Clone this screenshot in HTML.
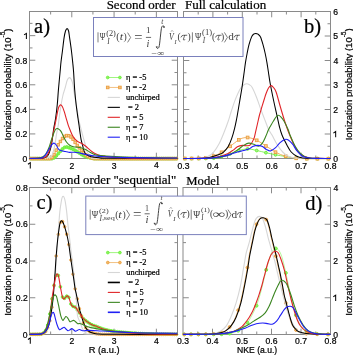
<!DOCTYPE html>
<html><head><meta charset="utf-8"><style>
html,body{margin:0;padding:0;background:#fff;width:353px;height:355px;overflow:hidden}
svg{display:block;will-change:transform}
text.k{stroke:#000;stroke-width:0.22px}
</style></head><body>
<svg width="353" height="355" viewBox="0 0 353 355">
<rect width="353" height="355" fill="#fff"/>
<path d="M71.79,158.50v-5.80M71.79,11.50v5.80M114.07,158.50v-5.80M114.07,11.50v5.80M156.36,158.50v-5.80M156.36,11.50v5.80M50.64,158.50v-3.00M50.64,11.50v3.00M92.93,158.50v-3.00M92.93,11.50v3.00M135.21,158.50v-3.00M135.21,11.50v3.00M29.50,133.93h5.80M177.50,133.93h-5.80M29.50,109.36h5.80M177.50,109.36h-5.80M29.50,84.79h5.80M177.50,84.79h-5.80M29.50,60.22h5.80M177.50,60.22h-5.80M29.50,35.65h5.80M177.50,35.65h-5.80M29.50,146.22h3.00M177.50,146.22h-3.00M29.50,121.64h3.00M177.50,121.64h-3.00M29.50,97.07h3.00M177.50,97.07h-3.00M29.50,72.51h3.00M177.50,72.51h-3.00M29.50,47.93h3.00M177.50,47.93h-3.00M29.50,23.36h3.00M177.50,23.36h-3.00" stroke="#8a8a8a" stroke-width="1" fill="none"/>
<rect x="29.50" y="11.50" width="148.00" height="147.00" stroke="#8a8a8a" stroke-width="1" fill="none"/>
<path d="M212.90,158.50v-5.80M212.90,11.50v5.80M242.30,158.50v-5.80M242.30,11.50v5.80M271.70,158.50v-5.80M271.70,11.50v5.80M301.10,158.50v-5.80M301.10,11.50v5.80M198.20,158.50v-3.00M198.20,11.50v3.00M227.60,158.50v-3.00M227.60,11.50v3.00M257.00,158.50v-3.00M257.00,11.50v3.00M286.40,158.50v-3.00M286.40,11.50v3.00M315.80,158.50v-3.00M315.80,11.50v3.00M183.50,134.00h5.80M330.50,134.00h-5.80M183.50,109.50h5.80M330.50,109.50h-5.80M183.50,85.00h5.80M330.50,85.00h-5.80M183.50,60.50h5.80M330.50,60.50h-5.80M183.50,36.00h5.80M330.50,36.00h-5.80M183.50,146.25h3.00M330.50,146.25h-3.00M183.50,121.75h3.00M330.50,121.75h-3.00M183.50,97.25h3.00M330.50,97.25h-3.00M183.50,72.75h3.00M330.50,72.75h-3.00M183.50,48.25h3.00M330.50,48.25h-3.00M183.50,23.75h3.00M330.50,23.75h-3.00" stroke="#8a8a8a" stroke-width="1" fill="none"/>
<rect x="183.50" y="11.50" width="147.00" height="147.00" stroke="#8a8a8a" stroke-width="1" fill="none"/>
<path d="M71.79,334.50v-5.80M71.79,187.50v5.80M114.07,334.50v-5.80M114.07,187.50v5.80M156.36,334.50v-5.80M156.36,187.50v5.80M50.64,334.50v-3.00M50.64,187.50v3.00M92.93,334.50v-3.00M92.93,187.50v3.00M135.21,334.50v-3.00M135.21,187.50v3.00M29.50,297.75h5.80M177.50,297.75h-5.80M29.50,261.00h5.80M177.50,261.00h-5.80M29.50,224.25h5.80M177.50,224.25h-5.80M29.50,316.12h3.00M177.50,316.12h-3.00M29.50,279.38h3.00M177.50,279.38h-3.00M29.50,242.62h3.00M177.50,242.62h-3.00M29.50,205.88h3.00M177.50,205.88h-3.00" stroke="#8a8a8a" stroke-width="1" fill="none"/>
<rect x="29.50" y="187.50" width="148.00" height="147.00" stroke="#8a8a8a" stroke-width="1" fill="none"/>
<path d="M212.50,334.50v-5.80M212.50,187.50v5.80M242.00,334.50v-5.80M242.00,187.50v5.80M271.50,334.50v-5.80M271.50,187.50v5.80M301.00,334.50v-5.80M301.00,187.50v5.80M197.75,334.50v-3.00M197.75,187.50v3.00M227.25,334.50v-3.00M227.25,187.50v3.00M256.75,334.50v-3.00M256.75,187.50v3.00M286.25,334.50v-3.00M286.25,187.50v3.00M315.75,334.50v-3.00M315.75,187.50v3.00M183.00,297.75h5.80M330.50,297.75h-5.80M183.00,261.00h5.80M330.50,261.00h-5.80M183.00,224.25h5.80M330.50,224.25h-5.80M183.00,316.12h3.00M330.50,316.12h-3.00M183.00,279.38h3.00M330.50,279.38h-3.00M183.00,242.62h3.00M330.50,242.62h-3.00M183.00,205.88h3.00M330.50,205.88h-3.00" stroke="#8a8a8a" stroke-width="1" fill="none"/>
<rect x="183.00" y="187.50" width="147.50" height="147.00" stroke="#8a8a8a" stroke-width="1" fill="none"/>
<g>
<path d="M29.50,158.60C32.92,158.60 46.15,158.62 50.00,158.60C53.85,158.58 51.78,158.73 52.60,158.50C53.42,158.27 54.03,157.92 54.90,157.20C55.77,156.48 56.82,155.27 57.80,154.20C58.78,153.13 59.80,151.87 60.80,150.80C61.80,149.73 62.85,148.43 63.80,147.80C64.75,147.17 65.55,146.98 66.50,147.00C67.45,147.02 68.23,147.43 69.50,147.90C70.77,148.37 72.58,149.02 74.10,149.80C75.62,150.58 77.10,151.67 78.60,152.60C80.10,153.53 81.58,154.62 83.10,155.40C84.62,156.18 86.00,156.80 87.70,157.30C89.40,157.80 91.25,158.18 93.30,158.40C95.35,158.62 85.97,158.57 100.00,158.60C114.03,158.63 164.58,158.60 177.50,158.60" stroke="#6cf03a" stroke-width="0.80" fill="none" stroke-linejoin="round" />
<g fill="#80f050" stroke="#6cf03a" stroke-width="0.90"><circle cx="30.87" cy="158.60" r="1.45"/><circle cx="32.98" cy="158.60" r="1.45"/><circle cx="35.09" cy="158.60" r="1.45"/><circle cx="37.20" cy="158.60" r="1.45"/><circle cx="39.31" cy="158.61" r="1.45"/><circle cx="41.42" cy="158.61" r="1.45"/><circle cx="43.52" cy="158.61" r="1.45"/><circle cx="45.63" cy="158.61" r="1.45"/><circle cx="47.74" cy="158.61" r="1.45"/><circle cx="49.85" cy="158.60" r="1.45"/><circle cx="51.96" cy="158.61" r="1.45"/><circle cx="54.07" cy="157.82" r="1.45"/><circle cx="56.18" cy="155.97" r="1.45"/><circle cx="58.29" cy="153.66" r="1.45"/><circle cx="60.40" cy="151.24" r="1.45"/><circle cx="62.51" cy="148.94" r="1.45"/><circle cx="64.61" cy="147.35" r="1.45"/><circle cx="66.72" cy="147.01" r="1.45"/><circle cx="68.83" cy="147.64" r="1.45"/><circle cx="70.94" cy="148.43" r="1.45"/><circle cx="73.05" cy="149.30" r="1.45"/><circle cx="75.16" cy="150.39" r="1.45"/><circle cx="77.27" cy="151.74" r="1.45"/><circle cx="79.38" cy="153.10" r="1.45"/><circle cx="81.49" cy="154.47" r="1.45"/><circle cx="83.60" cy="155.65" r="1.45"/><circle cx="85.70" cy="156.61" r="1.45"/><circle cx="87.81" cy="157.33" r="1.45"/><circle cx="89.92" cy="157.86" r="1.45"/><circle cx="92.03" cy="158.24" r="1.45"/><circle cx="94.14" cy="158.59" r="1.45"/><circle cx="96.25" cy="158.59" r="1.45"/><circle cx="98.36" cy="158.60" r="1.45"/><circle cx="100.47" cy="158.60" r="1.45"/><circle cx="102.58" cy="158.60" r="1.45"/><circle cx="104.69" cy="158.61" r="1.45"/><circle cx="106.79" cy="158.61" r="1.45"/><circle cx="108.90" cy="158.61" r="1.45"/><circle cx="111.01" cy="158.61" r="1.45"/><circle cx="113.12" cy="158.61" r="1.45"/><circle cx="115.23" cy="158.61" r="1.45"/><circle cx="117.34" cy="158.61" r="1.45"/><circle cx="119.45" cy="158.61" r="1.45"/><circle cx="121.56" cy="158.61" r="1.45"/><circle cx="123.67" cy="158.61" r="1.45"/><circle cx="125.78" cy="158.61" r="1.45"/><circle cx="127.88" cy="158.61" r="1.45"/><circle cx="129.99" cy="158.61" r="1.45"/><circle cx="132.10" cy="158.61" r="1.45"/><circle cx="134.21" cy="158.61" r="1.45"/><circle cx="136.32" cy="158.61" r="1.45"/><circle cx="138.43" cy="158.61" r="1.45"/><circle cx="140.54" cy="158.61" r="1.45"/><circle cx="142.65" cy="158.61" r="1.45"/><circle cx="144.76" cy="158.61" r="1.45"/><circle cx="146.87" cy="158.61" r="1.45"/><circle cx="148.97" cy="158.61" r="1.45"/><circle cx="151.08" cy="158.61" r="1.45"/><circle cx="153.19" cy="158.61" r="1.45"/><circle cx="155.30" cy="158.61" r="1.45"/><circle cx="157.41" cy="158.61" r="1.45"/><circle cx="159.52" cy="158.61" r="1.45"/><circle cx="161.63" cy="158.60" r="1.45"/><circle cx="163.74" cy="158.60" r="1.45"/><circle cx="165.85" cy="158.60" r="1.45"/><circle cx="167.96" cy="158.60" r="1.45"/><circle cx="170.06" cy="158.60" r="1.45"/><circle cx="172.17" cy="158.60" r="1.45"/><circle cx="174.28" cy="158.60" r="1.45"/><circle cx="176.39" cy="158.60" r="1.45"/></g>
<path d="M29.50,158.60C32.58,158.60 44.43,158.65 48.00,158.60C51.57,158.55 49.98,158.82 50.90,158.30C51.82,157.78 52.67,156.75 53.50,155.50C54.33,154.25 55.10,152.58 55.90,150.80C56.70,149.02 57.48,146.45 58.30,144.80C59.12,143.15 59.88,142.20 60.80,140.90C61.72,139.60 62.85,137.88 63.80,137.00C64.75,136.12 65.55,135.77 66.50,135.60C67.45,135.43 68.43,135.43 69.50,136.00C70.57,136.57 71.77,137.63 72.90,139.00C74.03,140.37 75.17,142.67 76.30,144.20C77.43,145.73 78.57,146.87 79.70,148.20C80.83,149.53 81.77,150.87 83.10,152.20C84.43,153.53 86.00,155.20 87.70,156.20C89.40,157.20 91.25,157.80 93.30,158.20C95.35,158.60 85.97,158.53 100.00,158.60C114.03,158.67 164.58,158.60 177.50,158.60" stroke="#eb9f40" stroke-width="0.80" fill="none" stroke-linejoin="round" />
<g fill="#f5cf9a" stroke="#eb9f40" stroke-width="0.90"><rect x="29.62" y="157.35" width="2.50" height="2.50"/><rect x="31.73" y="157.36" width="2.50" height="2.50"/><rect x="33.84" y="157.36" width="2.50" height="2.50"/><rect x="35.95" y="157.37" width="2.50" height="2.50"/><rect x="38.06" y="157.37" width="2.50" height="2.50"/><rect x="40.17" y="157.37" width="2.50" height="2.50"/><rect x="42.27" y="157.37" width="2.50" height="2.50"/><rect x="44.38" y="157.37" width="2.50" height="2.50"/><rect x="46.49" y="157.35" width="2.50" height="2.50"/><rect x="48.60" y="157.36" width="2.50" height="2.50"/><rect x="50.71" y="156.21" width="2.50" height="2.50"/><rect x="52.82" y="153.32" width="2.50" height="2.50"/><rect x="54.93" y="148.90" width="2.50" height="2.50"/><rect x="57.04" y="143.57" width="2.50" height="2.50"/><rect x="59.15" y="140.22" width="2.50" height="2.50"/><rect x="61.26" y="137.25" width="2.50" height="2.50"/><rect x="63.36" y="135.09" width="2.50" height="2.50"/><rect x="65.47" y="134.31" width="2.50" height="2.50"/><rect x="67.58" y="134.46" width="2.50" height="2.50"/><rect x="69.69" y="135.75" width="2.50" height="2.50"/><rect x="71.80" y="137.94" width="2.50" height="2.50"/><rect x="73.91" y="141.21" width="2.50" height="2.50"/><rect x="76.02" y="144.18" width="2.50" height="2.50"/><rect x="78.13" y="146.58" width="2.50" height="2.50"/><rect x="80.24" y="149.15" width="2.50" height="2.50"/><rect x="82.35" y="151.45" width="2.50" height="2.50"/><rect x="84.45" y="153.47" width="2.50" height="2.50"/><rect x="86.56" y="155.02" width="2.50" height="2.50"/><rect x="88.67" y="156.01" width="2.50" height="2.50"/><rect x="90.78" y="156.67" width="2.50" height="2.50"/><rect x="92.89" y="157.32" width="2.50" height="2.50"/><rect x="95.00" y="157.33" width="2.50" height="2.50"/><rect x="97.11" y="157.34" width="2.50" height="2.50"/><rect x="99.22" y="157.35" width="2.50" height="2.50"/><rect x="101.33" y="157.36" width="2.50" height="2.50"/><rect x="103.44" y="157.36" width="2.50" height="2.50"/><rect x="105.54" y="157.37" width="2.50" height="2.50"/><rect x="107.65" y="157.37" width="2.50" height="2.50"/><rect x="109.76" y="157.37" width="2.50" height="2.50"/><rect x="111.87" y="157.38" width="2.50" height="2.50"/><rect x="113.98" y="157.38" width="2.50" height="2.50"/><rect x="116.09" y="157.38" width="2.50" height="2.50"/><rect x="118.20" y="157.38" width="2.50" height="2.50"/><rect x="120.31" y="157.38" width="2.50" height="2.50"/><rect x="122.42" y="157.38" width="2.50" height="2.50"/><rect x="124.53" y="157.38" width="2.50" height="2.50"/><rect x="126.63" y="157.38" width="2.50" height="2.50"/><rect x="128.74" y="157.38" width="2.50" height="2.50"/><rect x="130.85" y="157.38" width="2.50" height="2.50"/><rect x="132.96" y="157.38" width="2.50" height="2.50"/><rect x="135.07" y="157.38" width="2.50" height="2.50"/><rect x="137.18" y="157.38" width="2.50" height="2.50"/><rect x="139.29" y="157.37" width="2.50" height="2.50"/><rect x="141.40" y="157.37" width="2.50" height="2.50"/><rect x="143.51" y="157.37" width="2.50" height="2.50"/><rect x="145.62" y="157.37" width="2.50" height="2.50"/><rect x="147.72" y="157.37" width="2.50" height="2.50"/><rect x="149.83" y="157.37" width="2.50" height="2.50"/><rect x="151.94" y="157.37" width="2.50" height="2.50"/><rect x="154.05" y="157.36" width="2.50" height="2.50"/><rect x="156.16" y="157.36" width="2.50" height="2.50"/><rect x="158.27" y="157.36" width="2.50" height="2.50"/><rect x="160.38" y="157.36" width="2.50" height="2.50"/><rect x="162.49" y="157.36" width="2.50" height="2.50"/><rect x="164.60" y="157.36" width="2.50" height="2.50"/><rect x="166.71" y="157.35" width="2.50" height="2.50"/><rect x="168.81" y="157.35" width="2.50" height="2.50"/><rect x="170.92" y="157.35" width="2.50" height="2.50"/><rect x="173.03" y="157.35" width="2.50" height="2.50"/><rect x="175.14" y="157.35" width="2.50" height="2.50"/></g>
<path d="M29.50,158.50C31.58,158.48 39.25,158.48 42.00,158.40C44.75,158.32 44.52,158.28 46.00,158.00C47.48,157.72 49.75,157.57 50.90,156.70C52.05,155.83 52.23,154.78 52.90,152.80C53.57,150.82 54.32,147.78 54.90,144.80C55.48,141.82 55.83,138.20 56.40,134.90C56.97,131.60 57.85,127.77 58.30,125.00C58.75,122.23 58.62,121.77 59.10,118.30C59.58,114.83 60.55,108.08 61.20,104.20C61.85,100.32 62.45,97.37 63.00,95.00C63.55,92.63 64.10,91.33 64.50,90.00C64.90,88.67 64.93,88.67 65.40,87.00C65.87,85.33 66.60,81.57 67.30,80.00C68.00,78.43 68.93,77.68 69.60,77.60C70.27,77.52 70.77,78.43 71.30,79.50C71.83,80.57 72.35,81.92 72.80,84.00C73.25,86.08 73.55,89.33 74.00,92.00C74.45,94.67 74.97,97.00 75.50,100.00C76.03,103.00 76.65,106.67 77.20,110.00C77.75,113.33 78.25,117.17 78.80,120.00C79.35,122.83 79.92,124.67 80.50,127.00C81.08,129.33 81.72,131.83 82.30,134.00C82.88,136.17 83.47,138.08 84.00,140.00C84.53,141.92 84.92,143.45 85.50,145.50C86.08,147.55 86.42,150.35 87.50,152.30C88.58,154.25 89.92,156.20 92.00,157.20C94.08,158.20 85.75,158.08 100.00,158.30C114.25,158.52 164.58,158.47 177.50,158.50" stroke="#d6d6d6" stroke-width="1.10" fill="none" stroke-linejoin="round" />
<path d="M29.50,158.50C31.25,158.48 37.58,158.47 40.00,158.40C42.42,158.33 43.00,158.30 44.00,158.10C45.00,157.90 45.27,157.77 46.00,157.20C46.73,156.63 47.75,155.77 48.40,154.70C49.05,153.63 49.40,152.45 49.90,150.80C50.40,149.15 50.95,147.10 51.40,144.80C51.85,142.50 52.20,139.80 52.60,137.00C53.00,134.20 53.30,131.12 53.80,128.00C54.30,124.88 55.02,122.27 55.60,118.30C56.18,114.33 56.83,108.92 57.30,104.20C57.77,99.48 58.03,94.37 58.40,90.00C58.77,85.63 59.18,81.40 59.50,78.00C59.82,74.60 60.05,72.27 60.30,69.60C60.55,66.93 60.63,65.18 61.00,62.00C61.37,58.82 61.98,54.55 62.50,50.50C63.02,46.45 63.60,40.95 64.10,37.70C64.60,34.45 65.00,32.52 65.50,31.00C66.00,29.48 66.58,28.60 67.10,28.60C67.62,28.60 68.18,29.48 68.60,31.00C69.02,32.52 69.13,34.45 69.60,37.70C70.07,40.95 70.87,46.25 71.40,50.50C71.93,54.75 72.43,59.62 72.80,63.20C73.17,66.78 73.28,67.53 73.60,72.00C73.92,76.47 74.28,84.63 74.70,90.00C75.12,95.37 75.55,99.48 76.10,104.20C76.65,108.92 77.52,114.83 78.00,118.30C78.48,121.77 78.67,122.63 79.00,125.00C79.33,127.37 79.65,130.07 80.00,132.50C80.35,134.93 80.67,137.45 81.10,139.60C81.53,141.75 82.07,143.40 82.60,145.40C83.13,147.40 83.65,150.05 84.30,151.60C84.95,153.15 85.37,153.85 86.50,154.70C87.63,155.55 89.02,156.20 91.10,156.70C93.18,157.20 95.85,157.43 99.00,157.70C102.15,157.97 96.92,158.17 110.00,158.30C123.08,158.43 166.25,158.47 177.50,158.50" stroke="#000000" stroke-width="1.05" fill="none" stroke-linejoin="round" />
<path d="M29.50,158.50C31.25,158.48 37.75,158.50 40.00,158.40C42.25,158.30 42.00,158.18 43.00,157.90C44.00,157.62 45.02,157.72 46.00,156.70C46.98,155.68 48.08,153.78 48.90,151.80C49.72,149.82 50.18,147.85 50.90,144.80C51.62,141.75 52.53,136.73 53.20,133.50C53.87,130.27 54.38,127.93 54.90,125.40C55.42,122.87 55.83,120.67 56.30,118.30C56.77,115.93 57.28,113.08 57.70,111.20C58.12,109.32 58.33,108.05 58.80,107.00C59.27,105.95 59.92,104.98 60.50,104.90C61.08,104.82 61.70,105.45 62.30,106.50C62.90,107.55 63.45,109.23 64.10,111.20C64.75,113.17 65.50,115.93 66.20,118.30C66.90,120.67 67.58,123.28 68.30,125.40C69.02,127.52 69.80,129.32 70.50,131.00C71.20,132.68 71.75,134.13 72.50,135.50C73.25,136.87 74.08,138.15 75.00,139.20C75.92,140.25 77.02,141.15 78.00,141.80C78.98,142.45 79.67,142.40 80.90,143.10C82.13,143.80 83.90,144.87 85.40,146.00C86.90,147.13 88.38,148.68 89.90,149.90C91.42,151.12 92.98,152.42 94.50,153.30C96.02,154.18 97.30,154.70 99.00,155.20C100.70,155.70 102.53,155.98 104.70,156.30C106.87,156.62 108.62,156.85 112.00,157.10C115.38,157.35 120.33,157.62 125.00,157.80C129.67,157.98 131.25,158.10 140.00,158.20C148.75,158.30 171.25,158.37 177.50,158.40" stroke="#e02428" stroke-width="1.10" fill="none" stroke-linejoin="round" />
<path d="M29.50,158.50C30.58,158.47 34.25,158.43 36.00,158.30C37.75,158.17 38.83,157.97 40.00,157.70C41.17,157.43 42.00,157.37 43.00,156.70C44.00,156.03 45.02,155.18 46.00,153.70C46.98,152.22 48.00,150.10 48.90,147.80C49.80,145.50 50.57,142.38 51.40,139.90C52.23,137.42 53.22,134.63 53.90,132.90C54.58,131.17 54.93,130.23 55.50,129.50C56.07,128.77 56.67,128.48 57.30,128.50C57.93,128.52 58.63,129.03 59.30,129.60C59.97,130.17 60.55,130.63 61.30,131.90C62.05,133.17 62.97,135.55 63.80,137.20C64.63,138.85 65.32,140.45 66.30,141.80C67.28,143.15 68.47,144.47 69.70,145.30C70.93,146.13 72.60,146.50 73.70,146.80C74.80,147.10 75.10,146.95 76.30,147.10C77.50,147.25 79.38,147.32 80.90,147.70C82.42,148.08 83.90,148.65 85.40,149.40C86.90,150.15 88.38,151.35 89.90,152.20C91.42,153.05 92.98,153.97 94.50,154.50C96.02,155.03 97.30,155.17 99.00,155.40C100.70,155.63 102.03,155.70 104.70,155.90C107.37,156.10 110.78,156.37 115.00,156.60C119.22,156.83 124.17,157.10 130.00,157.30C135.83,157.50 142.08,157.65 150.00,157.80C157.92,157.95 172.92,158.13 177.50,158.20" stroke="#3a8520" stroke-width="1.10" fill="none" stroke-linejoin="round" />
<path d="M29.50,158.40C30.92,158.38 36.13,158.35 38.00,158.30C39.87,158.25 39.87,158.28 40.70,158.10C41.53,157.92 42.28,157.60 43.00,157.20C43.72,156.80 44.25,156.58 45.00,155.70C45.75,154.82 46.65,153.32 47.50,151.90C48.35,150.48 49.25,148.55 50.10,147.20C50.95,145.85 51.90,144.47 52.60,143.80C53.30,143.13 53.67,142.97 54.30,143.20C54.93,143.43 55.73,144.27 56.40,145.20C57.07,146.13 57.57,147.90 58.30,148.80C59.03,149.70 59.88,150.18 60.80,150.60C61.72,151.02 62.80,151.10 63.80,151.30C64.80,151.50 65.85,151.62 66.80,151.80C67.75,151.98 68.28,152.33 69.50,152.40C70.72,152.47 72.58,152.13 74.10,152.20C75.62,152.27 77.10,152.52 78.60,152.80C80.10,153.08 81.58,153.58 83.10,153.90C84.62,154.22 86.00,154.38 87.70,154.70C89.40,155.02 91.42,155.52 93.30,155.80C95.18,156.08 97.10,156.25 99.00,156.40C100.90,156.55 102.03,156.57 104.70,156.70C107.37,156.83 110.78,157.05 115.00,157.20C119.22,157.35 124.17,157.48 130.00,157.60C135.83,157.72 142.08,157.83 150.00,157.90C157.92,157.97 172.92,157.98 177.50,158.00" stroke="#2020f4" stroke-width="1.10" fill="none" stroke-linejoin="round" />
</g>
<g>
<path d="M183.50,158.60C187.08,158.58 199.92,158.58 205.00,158.50C210.08,158.42 211.17,158.45 214.00,158.10C216.83,157.75 219.17,157.15 222.00,156.40C224.83,155.65 228.20,154.57 231.00,153.60C233.80,152.63 236.80,151.28 238.80,150.60C240.80,149.92 241.53,149.78 243.00,149.50C244.47,149.22 246.10,148.92 247.60,148.90C249.10,148.88 250.48,149.13 252.00,149.40C253.52,149.67 255.12,150.13 256.70,150.50C258.28,150.87 259.97,151.23 261.50,151.60C263.03,151.97 264.32,152.33 265.90,152.70C267.48,153.07 269.40,153.45 271.00,153.80C272.60,154.15 273.92,154.48 275.50,154.80C277.08,155.12 278.80,155.42 280.50,155.70C282.20,155.98 283.95,156.22 285.70,156.50C287.45,156.78 289.25,157.13 291.00,157.40C292.75,157.67 293.57,157.90 296.20,158.10C298.83,158.30 301.08,158.52 306.80,158.60C312.52,158.68 326.55,158.60 330.50,158.60" stroke="#6cf03a" stroke-width="0.80" fill="none" stroke-linejoin="round" />
<g fill="#a6f58a" stroke="#6cf03a" stroke-width="1.00"><circle cx="184.80" cy="158.60" r="1.40"/><circle cx="191.60" cy="158.58" r="1.40"/><circle cx="198.70" cy="158.56" r="1.40"/><circle cx="205.80" cy="158.49" r="1.40"/><circle cx="213.70" cy="158.14" r="1.40"/><circle cx="221.60" cy="156.51" r="1.40"/><circle cx="230.10" cy="153.91" r="1.40"/><circle cx="238.80" cy="150.60" r="1.40"/><circle cx="247.60" cy="148.90" r="1.40"/><circle cx="256.70" cy="150.50" r="1.40"/><circle cx="265.90" cy="152.70" r="1.40"/><circle cx="275.50" cy="154.80" r="1.40"/><circle cx="285.70" cy="156.50" r="1.40"/><circle cx="296.20" cy="158.10" r="1.40"/><circle cx="306.80" cy="158.60" r="1.40"/><circle cx="317.40" cy="158.63" r="1.40"/><circle cx="328.40" cy="158.60" r="1.40"/></g>
<path d="M183.50,158.50C186.25,158.48 196.30,158.52 200.00,158.40C203.70,158.28 203.45,158.17 205.70,157.80C207.95,157.43 210.85,157.12 213.50,156.20C216.15,155.28 218.83,153.95 221.60,152.30C224.37,150.65 227.27,148.35 230.10,146.30C232.93,144.25 236.45,141.38 238.60,140.00C240.75,138.62 241.50,138.42 243.00,138.00C244.50,137.58 246.10,137.43 247.60,137.50C249.10,137.57 250.48,137.93 252.00,138.40C253.52,138.87 255.12,139.53 256.70,140.30C258.28,141.07 259.97,142.05 261.50,143.00C263.03,143.95 264.32,144.97 265.90,146.00C267.48,147.03 269.40,148.17 271.00,149.20C272.60,150.23 273.92,151.32 275.50,152.20C277.08,153.08 278.80,153.83 280.50,154.50C282.20,155.17 283.78,155.68 285.70,156.20C287.62,156.72 290.25,157.25 292.00,157.60C293.75,157.95 293.73,158.12 296.20,158.30C298.67,158.48 301.08,158.63 306.80,158.70C312.52,158.77 326.55,158.70 330.50,158.70" stroke="#eb9f40" stroke-width="0.80" fill="none" stroke-linejoin="round" />
<g fill="#f5cf9a" stroke="#eb9f40" stroke-width="0.90"><rect x="183.45" y="157.15" width="2.70" height="2.70"/><rect x="190.25" y="157.14" width="2.70" height="2.70"/><rect x="197.35" y="157.08" width="2.70" height="2.70"/><rect x="204.45" y="156.43" width="2.70" height="2.70"/><rect x="212.35" y="154.78" width="2.70" height="2.70"/><rect x="220.25" y="150.95" width="2.70" height="2.70"/><rect x="228.75" y="144.95" width="2.70" height="2.70"/><rect x="237.45" y="138.52" width="2.70" height="2.70"/><rect x="246.25" y="136.15" width="2.70" height="2.70"/><rect x="255.35" y="138.95" width="2.70" height="2.70"/><rect x="264.55" y="144.65" width="2.70" height="2.70"/><rect x="274.15" y="150.85" width="2.70" height="2.70"/><rect x="284.35" y="154.85" width="2.70" height="2.70"/><rect x="294.85" y="156.95" width="2.70" height="2.70"/><rect x="305.45" y="157.35" width="2.70" height="2.70"/><rect x="316.05" y="157.38" width="2.70" height="2.70"/><rect x="327.05" y="157.35" width="2.70" height="2.70"/></g>
<path d="M183.50,158.50C185.92,158.48 193.95,158.73 198.00,158.40C202.05,158.07 205.22,157.52 207.80,156.50C210.38,155.48 211.62,154.42 213.50,152.30C215.38,150.18 217.35,147.10 219.10,143.80C220.85,140.50 222.48,136.25 224.00,132.50C225.52,128.75 227.00,124.80 228.20,121.30C229.40,117.80 230.03,115.07 231.20,111.50C232.37,107.93 233.78,103.53 235.20,99.90C236.62,96.27 238.40,92.10 239.70,89.70C241.00,87.30 241.87,86.48 243.00,85.50C244.13,84.52 245.42,83.92 246.50,83.80C247.58,83.68 248.55,84.18 249.50,84.80C250.45,85.42 251.00,85.35 252.20,87.50C253.40,89.65 255.28,94.12 256.70,97.70C258.12,101.28 259.28,105.15 260.70,109.00C262.12,112.85 263.90,117.43 265.20,120.80C266.50,124.17 267.37,126.83 268.50,129.20C269.63,131.57 270.58,132.50 272.00,135.00C273.42,137.50 275.22,141.37 277.00,144.20C278.78,147.03 280.82,150.00 282.70,152.00C284.58,154.00 286.25,155.20 288.30,156.20C290.35,157.20 292.22,157.63 295.00,158.00C297.78,158.37 299.08,158.32 305.00,158.40C310.92,158.48 326.25,158.48 330.50,158.50" stroke="#d6d6d6" stroke-width="1.10" fill="none" stroke-linejoin="round" />
<path d="M183.50,158.50C185.92,158.48 194.42,158.47 198.00,158.40C201.58,158.33 202.90,158.30 205.00,158.10C207.10,157.90 208.48,157.70 210.60,157.20C212.72,156.70 215.58,155.92 217.70,155.10C219.82,154.28 221.55,153.72 223.30,152.30C225.05,150.88 226.78,148.95 228.20,146.60C229.62,144.25 230.73,141.25 231.80,138.20C232.87,135.15 233.78,131.58 234.60,128.30C235.42,125.02 236.20,120.97 236.70,118.50C237.20,116.03 237.10,116.40 237.60,113.50C238.10,110.60 238.97,105.43 239.70,101.10C240.43,96.77 241.25,92.35 242.00,87.50C242.75,82.65 243.62,76.18 244.20,72.00C244.78,67.82 245.02,65.48 245.50,62.40C245.98,59.32 246.52,56.47 247.10,53.50C247.68,50.53 248.25,47.37 249.00,44.60C249.75,41.83 250.83,38.63 251.60,36.90C252.37,35.17 252.90,34.78 253.60,34.20C254.30,33.62 255.07,33.40 255.80,33.40C256.53,33.40 257.22,33.62 258.00,34.20C258.78,34.78 259.67,35.17 260.50,36.90C261.33,38.63 262.22,41.83 263.00,44.60C263.78,47.37 264.55,50.53 265.20,53.50C265.85,56.47 266.37,59.32 266.90,62.40C267.43,65.48 267.85,68.48 268.40,72.00C268.95,75.52 269.33,78.75 270.20,83.50C271.07,88.25 272.47,95.13 273.60,100.50C274.73,105.87 276.02,111.28 277.00,115.70C277.98,120.12 278.67,123.78 279.50,127.00C280.33,130.22 280.77,132.02 282.00,135.00C283.23,137.98 285.37,142.07 286.90,144.90C288.43,147.73 289.55,150.12 291.20,152.00C292.85,153.88 294.92,155.22 296.80,156.20C298.68,157.18 300.30,157.53 302.50,157.90C304.70,158.27 305.33,158.30 310.00,158.40C314.67,158.50 327.08,158.48 330.50,158.50" stroke="#000000" stroke-width="1.05" fill="none" stroke-linejoin="round" />
<path d="M183.50,158.50C187.08,158.48 200.25,158.52 205.00,158.40C209.75,158.28 209.42,158.17 212.00,157.80C214.58,157.43 217.92,156.88 220.50,156.20C223.08,155.52 225.38,154.72 227.50,153.70C229.62,152.68 231.55,151.25 233.20,150.10C234.85,148.95 235.85,147.58 237.40,146.80C238.95,146.02 240.88,145.57 242.50,145.40C244.12,145.23 245.77,145.93 247.10,145.80C248.43,145.67 249.37,145.80 250.50,144.60C251.63,143.40 253.05,140.73 253.90,138.60C254.75,136.47 255.03,134.15 255.60,131.80C256.17,129.45 256.65,127.30 257.30,124.50C257.95,121.70 258.75,117.88 259.50,115.00C260.25,112.12 261.05,109.70 261.80,107.20C262.55,104.70 263.30,102.25 264.00,100.00C264.70,97.75 265.25,95.70 266.00,93.70C266.75,91.70 267.65,89.35 268.50,88.00C269.35,86.65 270.27,85.68 271.10,85.60C271.93,85.52 272.67,86.43 273.50,87.50C274.33,88.57 274.95,88.75 276.10,92.00C277.25,95.25 279.08,102.50 280.40,107.00C281.72,111.50 282.90,115.50 284.00,119.00C285.10,122.50 286.05,125.33 287.00,128.00C287.95,130.67 288.53,132.18 289.70,135.00C290.87,137.82 292.58,142.07 294.00,144.90C295.42,147.73 296.55,150.12 298.20,152.00C299.85,153.88 301.93,155.20 303.90,156.20C305.87,157.20 307.65,157.63 310.00,158.00C312.35,158.37 314.58,158.32 318.00,158.40C321.42,158.48 328.42,158.48 330.50,158.50" stroke="#e02428" stroke-width="1.10" fill="none" stroke-linejoin="round" />
<path d="M183.50,158.50C187.92,158.48 203.50,158.70 210.00,158.40C216.50,158.10 219.00,157.45 222.50,156.70C226.00,155.95 228.42,155.08 231.00,153.90C233.58,152.72 235.88,151.02 238.00,149.60C240.12,148.18 241.90,146.48 243.70,145.40C245.50,144.32 247.10,143.28 248.80,143.10C250.50,142.92 252.30,143.77 253.90,144.30C255.50,144.83 256.98,146.50 258.40,146.30C259.82,146.10 261.17,144.77 262.40,143.10C263.63,141.43 264.77,138.57 265.80,136.30C266.83,134.03 267.67,131.47 268.60,129.50C269.53,127.53 270.57,125.95 271.40,124.50C272.23,123.05 272.83,122.05 273.60,120.80C274.37,119.55 275.22,117.92 276.00,117.00C276.78,116.08 277.50,115.33 278.30,115.30C279.10,115.27 279.88,115.88 280.80,116.80C281.72,117.72 282.60,118.73 283.80,120.80C285.00,122.87 286.93,126.75 288.00,129.20C289.07,131.65 288.98,132.62 290.20,135.50C291.42,138.38 293.60,143.53 295.30,146.50C297.00,149.47 298.42,151.45 300.40,153.30C302.38,155.15 304.77,156.75 307.20,157.60C309.63,158.45 311.12,158.25 315.00,158.40C318.88,158.55 327.92,158.48 330.50,158.50" stroke="#3a8520" stroke-width="1.10" fill="none" stroke-linejoin="round" />
<path d="M183.50,158.50C187.08,158.48 200.00,158.50 205.00,158.40C210.00,158.30 210.68,158.22 213.50,157.90C216.32,157.58 219.08,157.08 221.90,156.50C224.72,155.92 227.82,155.15 230.40,154.40C232.98,153.65 235.18,152.65 237.40,152.00C239.62,151.35 241.72,151.03 243.70,150.50C245.68,149.97 247.80,149.47 249.30,148.80C250.80,148.13 251.28,147.07 252.70,146.50C254.12,145.93 256.18,145.40 257.80,145.40C259.42,145.40 260.98,145.83 262.40,146.50C263.82,147.17 264.93,148.67 266.30,149.40C267.67,150.13 269.05,151.18 270.60,150.90C272.15,150.62 274.07,149.05 275.60,147.70C277.13,146.35 278.27,144.17 279.80,142.80C281.33,141.43 283.38,139.97 284.80,139.50C286.22,139.03 287.00,139.22 288.30,140.00C289.60,140.78 291.18,142.43 292.60,144.20C294.02,145.97 295.15,148.60 296.80,150.60C298.45,152.60 300.60,155.02 302.50,156.20C304.40,157.38 306.12,157.33 308.20,157.70C310.28,158.07 311.28,158.27 315.00,158.40C318.72,158.53 327.92,158.48 330.50,158.50" stroke="#2020f4" stroke-width="1.10" fill="none" stroke-linejoin="round" />
</g>
<g>
<g fill="#8ef266" stroke="#6cf03a" stroke-width="0.90"><circle cx="30.87" cy="334.39" r="1.35"/><circle cx="32.98" cy="334.37" r="1.35"/><circle cx="35.09" cy="334.36" r="1.35"/><circle cx="37.20" cy="334.32" r="1.35"/><circle cx="39.31" cy="334.25" r="1.35"/><circle cx="41.42" cy="334.00" r="1.35"/><circle cx="43.52" cy="332.90" r="1.35"/><circle cx="45.63" cy="330.53" r="1.35"/><circle cx="47.74" cy="325.08" r="1.35"/><circle cx="49.85" cy="313.95" r="1.35"/><circle cx="51.96" cy="298.77" r="1.35"/><circle cx="54.07" cy="285.34" r="1.35"/><circle cx="56.18" cy="275.26" r="1.35"/><circle cx="58.29" cy="275.46" r="1.35"/><circle cx="60.40" cy="286.87" r="1.35"/><circle cx="62.51" cy="297.05" r="1.35"/><circle cx="64.61" cy="298.30" r="1.35"/><circle cx="66.72" cy="296.16" r="1.35"/><circle cx="68.83" cy="297.37" r="1.35"/><circle cx="70.94" cy="304.01" r="1.35"/><circle cx="73.05" cy="306.42" r="1.35"/><circle cx="75.16" cy="307.16" r="1.35"/><circle cx="77.27" cy="309.87" r="1.35"/><circle cx="79.38" cy="312.91" r="1.35"/><circle cx="81.49" cy="316.21" r="1.35"/><circle cx="83.60" cy="318.89" r="1.35"/><circle cx="85.70" cy="320.62" r="1.35"/><circle cx="87.81" cy="322.21" r="1.35"/><circle cx="89.92" cy="323.68" r="1.35"/><circle cx="92.03" cy="324.79" r="1.35"/><circle cx="94.14" cy="325.60" r="1.35"/><circle cx="96.25" cy="326.33" r="1.35"/><circle cx="98.36" cy="327.14" r="1.35"/><circle cx="100.47" cy="327.96" r="1.35"/><circle cx="102.58" cy="328.74" r="1.35"/><circle cx="104.69" cy="329.41" r="1.35"/><circle cx="106.79" cy="329.96" r="1.35"/><circle cx="108.90" cy="330.42" r="1.35"/><circle cx="111.01" cy="330.83" r="1.35"/><circle cx="113.12" cy="331.18" r="1.35"/><circle cx="115.23" cy="331.48" r="1.35"/><circle cx="117.34" cy="331.73" r="1.35"/><circle cx="119.45" cy="331.95" r="1.35"/><circle cx="121.56" cy="332.15" r="1.35"/><circle cx="123.67" cy="332.33" r="1.35"/><circle cx="125.78" cy="332.51" r="1.35"/><circle cx="127.88" cy="332.68" r="1.35"/><circle cx="129.99" cy="332.85" r="1.35"/><circle cx="132.10" cy="333.00" r="1.35"/><circle cx="134.21" cy="333.15" r="1.35"/><circle cx="136.32" cy="333.28" r="1.35"/><circle cx="138.43" cy="333.42" r="1.35"/><circle cx="140.54" cy="333.54" r="1.35"/><circle cx="142.65" cy="333.64" r="1.35"/><circle cx="144.76" cy="333.73" r="1.35"/><circle cx="146.87" cy="333.81" r="1.35"/><circle cx="148.97" cy="333.87" r="1.35"/><circle cx="151.08" cy="333.93" r="1.35"/><circle cx="153.19" cy="333.97" r="1.35"/><circle cx="155.30" cy="334.01" r="1.35"/><circle cx="157.41" cy="334.04" r="1.35"/><circle cx="159.52" cy="334.07" r="1.35"/><circle cx="161.63" cy="334.10" r="1.35"/><circle cx="163.74" cy="334.13" r="1.35"/><circle cx="165.85" cy="334.16" r="1.35"/><circle cx="167.96" cy="334.18" r="1.35"/><circle cx="170.06" cy="334.21" r="1.35"/><circle cx="172.17" cy="334.23" r="1.35"/><circle cx="174.28" cy="334.26" r="1.35"/><circle cx="176.39" cy="334.28" r="1.35"/></g>
<g fill="#f0b060" stroke="#eb9f40" stroke-width="0.80"><circle cx="30.87" cy="334.38" r="1.30"/><circle cx="32.98" cy="334.36" r="1.30"/><circle cx="35.09" cy="334.34" r="1.30"/><circle cx="37.20" cy="334.30" r="1.30"/><circle cx="39.31" cy="334.24" r="1.30"/><circle cx="41.42" cy="334.05" r="1.30"/><circle cx="43.52" cy="333.31" r="1.30"/><circle cx="45.63" cy="331.58" r="1.30"/><circle cx="47.74" cy="327.76" r="1.30"/><circle cx="49.85" cy="320.83" r="1.30"/><circle cx="51.96" cy="307.24" r="1.30"/><circle cx="54.07" cy="285.61" r="1.30"/><circle cx="56.18" cy="255.99" r="1.30"/><circle cx="58.29" cy="234.41" r="1.30"/><circle cx="60.40" cy="222.31" r="1.30"/><circle cx="62.51" cy="221.61" r="1.30"/><circle cx="64.61" cy="226.75" r="1.30"/><circle cx="66.72" cy="234.24" r="1.30"/><circle cx="68.83" cy="244.53" r="1.30"/><circle cx="70.94" cy="259.98" r="1.30"/><circle cx="73.05" cy="274.15" r="1.30"/><circle cx="75.16" cy="288.85" r="1.30"/><circle cx="77.27" cy="298.89" r="1.30"/><circle cx="79.38" cy="308.69" r="1.30"/><circle cx="81.49" cy="315.97" r="1.30"/><circle cx="83.60" cy="322.75" r="1.30"/><circle cx="85.70" cy="327.68" r="1.30"/><circle cx="87.81" cy="330.33" r="1.30"/><circle cx="89.92" cy="331.94" r="1.30"/><circle cx="92.03" cy="332.77" r="1.30"/><circle cx="94.14" cy="333.39" r="1.30"/><circle cx="96.25" cy="333.78" r="1.30"/><circle cx="98.36" cy="334.03" r="1.30"/><circle cx="100.47" cy="334.21" r="1.30"/><circle cx="102.58" cy="334.24" r="1.30"/><circle cx="104.69" cy="334.26" r="1.30"/><circle cx="106.79" cy="334.28" r="1.30"/><circle cx="108.90" cy="334.29" r="1.30"/><circle cx="111.01" cy="334.31" r="1.30"/><circle cx="113.12" cy="334.32" r="1.30"/><circle cx="115.23" cy="334.32" r="1.30"/><circle cx="117.34" cy="334.33" r="1.30"/><circle cx="119.45" cy="334.34" r="1.30"/><circle cx="121.56" cy="334.34" r="1.30"/><circle cx="123.67" cy="334.35" r="1.30"/><circle cx="125.78" cy="334.35" r="1.30"/><circle cx="127.88" cy="334.35" r="1.30"/><circle cx="129.99" cy="334.36" r="1.30"/><circle cx="132.10" cy="334.36" r="1.30"/><circle cx="134.21" cy="334.36" r="1.30"/><circle cx="136.32" cy="334.37" r="1.30"/><circle cx="138.43" cy="334.37" r="1.30"/><circle cx="140.54" cy="334.37" r="1.30"/><circle cx="142.65" cy="334.37" r="1.30"/><circle cx="144.76" cy="334.38" r="1.30"/><circle cx="146.87" cy="334.38" r="1.30"/><circle cx="148.97" cy="334.38" r="1.30"/><circle cx="151.08" cy="334.38" r="1.30"/><circle cx="153.19" cy="334.38" r="1.30"/><circle cx="155.30" cy="334.38" r="1.30"/><circle cx="157.41" cy="334.38" r="1.30"/><circle cx="159.52" cy="334.39" r="1.30"/><circle cx="161.63" cy="334.39" r="1.30"/><circle cx="163.74" cy="334.39" r="1.30"/><circle cx="165.85" cy="334.39" r="1.30"/><circle cx="167.96" cy="334.39" r="1.30"/><circle cx="170.06" cy="334.39" r="1.30"/><circle cx="172.17" cy="334.39" r="1.30"/><circle cx="174.28" cy="334.40" r="1.30"/><circle cx="176.39" cy="334.40" r="1.30"/></g>
<path d="M29.50,334.40C31.25,334.37 37.75,334.33 40.00,334.20C42.25,334.07 42.17,333.90 43.00,333.60C43.83,333.30 44.33,333.08 45.00,332.40C45.67,331.72 46.25,331.15 47.00,329.50C47.75,327.85 48.78,325.25 49.50,322.50C50.22,319.75 50.73,316.58 51.30,313.00C51.87,309.42 52.43,304.67 52.90,301.00C53.37,297.33 53.70,295.17 54.10,291.00C54.50,286.83 54.93,281.17 55.30,276.00C55.67,270.83 55.90,266.12 56.30,260.00C56.70,253.88 57.30,245.10 57.70,239.30C58.10,233.50 58.33,229.90 58.70,225.20C59.07,220.50 59.47,215.08 59.90,211.10C60.33,207.12 60.92,203.58 61.30,201.30C61.68,199.02 61.90,198.23 62.20,197.40C62.50,196.57 62.78,196.30 63.10,196.30C63.42,196.30 63.75,196.57 64.10,197.40C64.45,198.23 64.78,199.02 65.20,201.30C65.62,203.58 66.13,207.12 66.60,211.10C67.07,215.08 67.48,220.50 68.00,225.20C68.52,229.90 69.22,235.17 69.70,239.30C70.18,243.43 70.43,246.22 70.90,250.00C71.37,253.78 71.98,257.83 72.50,262.00C73.02,266.17 73.52,270.67 74.00,275.00C74.48,279.33 74.98,283.50 75.40,288.00C75.82,292.50 76.15,297.38 76.50,302.00C76.85,306.62 76.92,312.37 77.50,315.70C78.08,319.03 79.15,319.80 80.00,322.00C80.85,324.20 81.60,327.15 82.60,328.90C83.60,330.65 84.43,331.65 86.00,332.50C87.57,333.35 76.75,333.68 92.00,334.00C107.25,334.32 163.25,334.33 177.50,334.40" stroke="#d6d6d6" stroke-width="1.10" fill="none" stroke-linejoin="round" />
<path d="M29.50,334.40C31.25,334.37 37.75,334.35 40.00,334.20C42.25,334.05 42.23,333.77 43.00,333.50C43.77,333.23 44.00,333.17 44.60,332.60C45.20,332.03 45.83,331.58 46.60,330.10C47.37,328.62 48.45,326.50 49.20,323.70C49.95,320.90 50.50,317.18 51.10,313.30C51.70,309.42 52.37,304.28 52.80,300.40C53.23,296.52 53.33,294.40 53.70,290.00C54.07,285.60 54.60,279.50 55.00,274.00C55.40,268.50 55.65,262.78 56.10,257.00C56.55,251.22 57.12,244.60 57.70,239.30C58.28,234.00 59.15,228.03 59.60,225.20C60.05,222.37 60.12,223.05 60.40,222.30C60.68,221.55 60.95,220.82 61.30,220.70C61.65,220.58 62.03,220.85 62.50,221.60C62.97,222.35 63.52,223.55 64.10,225.20C64.68,226.85 65.42,229.37 66.00,231.50C66.58,233.63 67.10,235.65 67.60,238.00C68.10,240.35 68.48,242.22 69.00,245.60C69.52,248.98 70.03,253.60 70.70,258.30C71.37,263.00 72.28,268.87 73.00,273.80C73.72,278.73 74.47,284.62 75.00,287.90C75.53,291.18 75.72,291.15 76.20,293.50C76.68,295.85 77.33,299.32 77.90,302.00C78.47,304.68 79.12,307.68 79.60,309.60C80.08,311.52 80.37,312.02 80.80,313.50C81.23,314.98 81.75,317.00 82.20,318.50C82.65,320.00 82.93,321.00 83.50,322.50C84.07,324.00 84.85,326.17 85.60,327.50C86.35,328.83 87.10,329.68 88.00,330.50C88.90,331.32 89.45,331.83 91.00,332.40C92.55,332.97 94.13,333.58 97.30,333.90C100.47,334.22 96.63,334.22 110.00,334.30C123.37,334.38 166.25,334.38 177.50,334.40" stroke="#000000" stroke-width="1.05" fill="none" stroke-linejoin="round" />
<path d="M29.50,334.40C31.25,334.37 37.75,334.40 40.00,334.20C42.25,334.00 42.17,333.65 43.00,333.20C43.83,332.75 44.37,332.37 45.00,331.50C45.63,330.63 46.22,329.58 46.80,328.00C47.38,326.42 47.97,324.50 48.50,322.00C49.03,319.50 49.55,315.83 50.00,313.00C50.45,310.17 50.88,307.30 51.20,305.00C51.52,302.70 51.58,301.48 51.90,299.20C52.22,296.92 52.72,293.73 53.10,291.30C53.48,288.87 53.83,286.67 54.20,284.60C54.57,282.53 54.97,280.47 55.30,278.90C55.63,277.33 55.88,276.05 56.20,275.20C56.52,274.35 56.88,273.83 57.20,273.80C57.52,273.77 57.82,274.33 58.10,275.00C58.38,275.67 58.58,276.20 58.90,277.80C59.22,279.40 59.65,282.55 60.00,284.60C60.35,286.65 60.63,288.20 61.00,290.10C61.37,292.00 61.78,294.52 62.20,296.00C62.62,297.48 63.00,298.72 63.50,299.00C64.00,299.28 64.57,298.22 65.20,297.70C65.83,297.18 66.67,295.90 67.30,295.90C67.93,295.90 68.50,296.68 69.00,297.70C69.50,298.72 69.87,300.72 70.30,302.00C70.73,303.28 71.03,304.62 71.60,305.40C72.17,306.18 73.00,306.35 73.70,306.70C74.40,307.05 75.23,307.02 75.80,307.50C76.37,307.98 76.60,308.82 77.10,309.60C77.60,310.38 78.23,311.42 78.80,312.20C79.37,312.98 79.87,313.35 80.50,314.30C81.13,315.25 81.52,316.68 82.60,317.90C83.68,319.12 85.53,320.50 87.00,321.60C88.47,322.70 89.68,323.65 91.40,324.50C93.12,325.35 95.95,326.18 97.30,326.70C98.65,327.22 98.22,327.13 99.50,327.60C100.78,328.07 102.92,328.93 105.00,329.50C107.08,330.07 109.50,330.58 112.00,331.00C114.50,331.42 116.17,331.63 120.00,332.00C123.83,332.37 130.00,332.88 135.00,333.20C140.00,333.52 142.92,333.72 150.00,333.90C157.08,334.08 172.92,334.23 177.50,334.30" stroke="#e02428" stroke-width="1.10" fill="none" stroke-linejoin="round" />
<path d="M29.50,334.40C31.25,334.33 37.75,334.23 40.00,334.00C42.25,333.77 42.33,333.32 43.00,333.00C43.67,332.68 43.57,332.68 44.00,332.10C44.43,331.52 45.00,330.90 45.60,329.50C46.20,328.10 46.97,325.97 47.60,323.70C48.23,321.43 48.82,318.72 49.40,315.90C49.98,313.08 50.48,309.82 51.10,306.80C51.72,303.78 52.62,299.65 53.10,297.80C53.58,295.95 53.68,296.18 54.00,295.70C54.32,295.22 54.67,294.90 55.00,294.90C55.33,294.90 55.68,295.22 56.00,295.70C56.32,296.18 56.42,295.95 56.90,297.80C57.38,299.65 58.25,303.78 58.90,306.80C59.55,309.82 60.15,313.63 60.80,315.90C61.45,318.17 62.20,319.97 62.80,320.40C63.40,320.83 63.87,319.15 64.40,318.50C64.93,317.85 65.40,316.50 66.00,316.50C66.60,316.50 67.35,317.63 68.00,318.50C68.65,319.37 69.27,321.28 69.90,321.70C70.53,322.12 71.15,321.22 71.80,321.00C72.45,320.78 73.13,320.23 73.80,320.40C74.47,320.57 75.15,321.45 75.80,322.00C76.45,322.55 77.05,323.45 77.70,323.70C78.35,323.95 79.07,323.47 79.70,323.50C80.33,323.53 80.77,323.62 81.50,323.90C82.23,324.18 83.08,324.73 84.10,325.20C85.12,325.67 86.62,326.33 87.60,326.70C88.58,327.07 88.38,327.03 90.00,327.40C91.62,327.77 95.72,328.58 97.30,328.90C98.88,329.22 97.38,328.98 99.50,329.30C101.62,329.62 105.75,330.35 110.00,330.80C114.25,331.25 118.33,331.60 125.00,332.00C131.67,332.40 141.25,332.90 150.00,333.20C158.75,333.50 172.92,333.70 177.50,333.80" stroke="#3a8520" stroke-width="1.10" fill="none" stroke-linejoin="round" />
<path d="M29.50,334.40C31.25,334.35 37.83,334.30 40.00,334.10C42.17,333.90 41.73,333.53 42.50,333.20C43.27,332.87 43.82,332.83 44.60,332.10C45.38,331.37 46.43,330.20 47.20,328.80C47.97,327.40 48.55,325.85 49.20,323.70C49.85,321.55 50.50,317.80 51.10,315.90C51.70,314.00 52.32,312.70 52.80,312.30C53.28,311.90 53.63,312.68 54.00,313.50C54.37,314.32 54.52,315.40 55.00,317.20C55.48,319.00 56.18,322.25 56.90,324.30C57.62,326.35 58.50,328.78 59.30,329.50C60.10,330.22 60.90,328.97 61.70,328.60C62.50,328.23 63.38,327.23 64.10,327.30C64.82,327.37 65.35,328.42 66.00,329.00C66.65,329.58 67.33,330.67 68.00,330.80C68.67,330.93 69.37,330.17 70.00,329.80C70.63,329.43 71.17,328.57 71.80,328.60C72.43,328.63 73.15,329.57 73.80,330.00C74.45,330.43 75.05,331.17 75.70,331.20C76.35,331.23 77.05,330.48 77.70,330.20C78.35,329.92 78.75,329.40 79.60,329.50C80.45,329.60 81.32,330.65 82.80,330.80C84.28,330.95 86.08,330.42 88.50,330.40C90.92,330.38 93.72,330.52 97.30,330.70C100.88,330.88 104.55,331.20 110.00,331.50C115.45,331.80 123.33,332.25 130.00,332.50C136.67,332.75 142.08,332.87 150.00,333.00C157.92,333.13 172.92,333.25 177.50,333.30" stroke="#2020f4" stroke-width="1.10" fill="none" stroke-linejoin="round" />
</g>
<g>
<path d="M183.00,334.40C189.17,334.37 211.83,334.43 220.00,334.20C228.17,333.97 228.67,333.78 232.00,333.00C235.33,332.22 237.42,331.25 240.00,329.50C242.58,327.75 245.50,324.92 247.50,322.50C249.50,320.08 250.43,317.97 252.00,315.00C253.57,312.03 255.48,308.37 256.90,304.70C258.32,301.03 259.40,296.95 260.50,293.00C261.60,289.05 262.58,284.73 263.50,281.00C264.42,277.27 265.08,274.10 266.00,270.60C266.92,267.10 268.00,263.10 269.00,260.00C270.00,256.90 270.90,253.92 272.00,252.00C273.10,250.08 274.38,248.67 275.60,248.50C276.82,248.33 278.15,249.25 279.30,251.00C280.45,252.75 281.42,255.35 282.50,259.00C283.58,262.65 284.78,268.40 285.80,272.90C286.82,277.40 287.65,281.65 288.60,286.00C289.55,290.35 290.48,294.83 291.50,299.00C292.52,303.17 293.62,307.42 294.70,311.00C295.78,314.58 296.87,317.92 298.00,320.50C299.13,323.08 300.08,324.75 301.50,326.50C302.92,328.25 304.58,329.83 306.50,331.00C308.42,332.17 310.75,332.97 313.00,333.50C315.25,334.03 317.08,334.05 320.00,334.20C322.92,334.35 328.75,334.37 330.50,334.40" stroke="#6cf03a" stroke-width="0.50" fill="none" stroke-linejoin="round" />
<g fill="#8ef266" stroke="#6cf03a" stroke-width="0.90"><circle cx="184.20" cy="334.40" r="1.50"/><circle cx="191.00" cy="334.39" r="1.50"/><circle cx="198.40" cy="334.38" r="1.50"/><circle cx="205.80" cy="334.36" r="1.50"/><circle cx="213.70" cy="334.31" r="1.50"/><circle cx="221.60" cy="334.15" r="1.50"/><circle cx="229.60" cy="333.54" r="1.50"/><circle cx="238.20" cy="330.63" r="1.50"/><circle cx="247.40" cy="322.62" r="1.50"/><circle cx="256.50" cy="305.70" r="1.50"/><circle cx="266.20" cy="269.84" r="1.50"/><circle cx="275.80" cy="248.48" r="1.50"/><circle cx="285.80" cy="272.90" r="1.50"/><circle cx="296.00" cy="315.14" r="1.50"/><circle cx="306.40" cy="330.94" r="1.50"/><circle cx="317.10" cy="334.05" r="1.50"/><circle cx="328.00" cy="334.37" r="1.50"/></g>
<path d="M182.50,334.40C186.17,334.38 200.00,334.35 204.50,334.30C209.00,334.25 207.50,334.23 209.50,334.10C211.50,333.97 213.95,334.00 216.50,333.50C219.05,333.00 222.42,332.42 224.80,331.10C227.18,329.78 229.00,327.92 230.80,325.60C232.60,323.28 234.00,321.00 235.60,317.20C237.20,313.40 239.00,307.98 240.40,302.80C241.80,297.62 242.88,291.67 244.00,286.10C245.12,280.53 246.30,274.08 247.10,269.40C247.90,264.72 248.30,261.05 248.80,258.00C249.30,254.95 249.53,253.90 250.10,251.10C250.67,248.30 251.50,244.52 252.20,241.20C252.90,237.88 253.58,234.03 254.30,231.20C255.02,228.37 255.67,226.23 256.50,224.20C257.33,222.17 258.30,220.07 259.30,219.00C260.30,217.93 261.32,217.65 262.50,217.80C263.68,217.95 265.28,218.13 266.40,219.90C267.52,221.67 268.42,225.55 269.20,228.40C269.98,231.25 270.38,233.93 271.10,237.00C271.82,240.07 272.68,243.47 273.50,246.80C274.32,250.13 275.25,253.80 276.00,257.00C276.75,260.20 277.35,263.07 278.00,266.00C278.65,268.93 279.23,271.35 279.90,274.60C280.57,277.85 281.35,282.02 282.00,285.50C282.65,288.98 283.23,292.83 283.80,295.50C284.37,298.17 284.87,299.45 285.40,301.50C285.93,303.55 286.48,305.78 287.00,307.80C287.52,309.82 287.95,311.57 288.50,313.60C289.05,315.63 289.67,318.02 290.30,320.00C290.93,321.98 291.43,323.92 292.30,325.50C293.17,327.08 294.47,328.45 295.50,329.50C296.53,330.55 296.83,331.12 298.50,331.80C300.17,332.48 302.83,333.20 305.50,333.60C308.17,334.00 310.42,334.07 314.50,334.20C318.58,334.33 327.42,334.37 330.00,334.40" stroke="#eb9f40" stroke-width="0.80" fill="none" stroke-linejoin="round" />
<g fill="#f0b060" stroke="#eb9f40" stroke-width="0.80"><circle cx="184.20" cy="334.39" r="1.45"/><circle cx="191.00" cy="334.37" r="1.45"/><circle cx="198.40" cy="334.34" r="1.45"/><circle cx="205.80" cy="334.28" r="1.45"/><circle cx="213.70" cy="333.87" r="1.45"/><circle cx="221.60" cy="332.36" r="1.45"/><circle cx="229.60" cy="327.07" r="1.45"/><circle cx="238.20" cy="310.14" r="1.45"/><circle cx="247.40" cy="267.58" r="1.45"/><circle cx="256.50" cy="224.20" r="1.45"/><circle cx="266.20" cy="219.61" r="1.45"/><circle cx="275.80" cy="256.15" r="1.45"/><circle cx="285.80" cy="303.06" r="1.45"/><circle cx="296.00" cy="330.02" r="1.45"/><circle cx="306.40" cy="333.72" r="1.45"/><circle cx="317.10" cy="334.26" r="1.45"/><circle cx="328.00" cy="334.38" r="1.45"/></g>
<path d="M183.00,334.40C186.67,334.37 200.00,334.35 205.00,334.20C210.00,334.05 210.40,334.02 213.00,333.50C215.60,332.98 218.35,332.42 220.60,331.10C222.85,329.78 224.72,328.12 226.50,325.60C228.28,323.08 229.70,319.80 231.30,316.00C232.90,312.20 234.58,307.78 236.10,302.80C237.62,297.82 239.20,291.67 240.40,286.10C241.60,280.53 242.53,273.82 243.30,269.40C244.07,264.98 244.50,262.42 245.00,259.60C245.50,256.78 245.60,255.33 246.30,252.50C247.00,249.67 248.25,246.15 249.20,242.60C250.15,239.05 251.07,234.75 252.00,231.20C252.93,227.65 254.00,223.53 254.80,221.30C255.60,219.07 256.08,218.62 256.80,217.80C257.52,216.98 258.40,216.53 259.10,216.40C259.80,216.27 260.42,216.65 261.00,217.00C261.58,217.35 261.85,216.83 262.60,218.50C263.35,220.17 264.55,223.70 265.50,227.00C266.45,230.30 267.37,234.77 268.30,238.30C269.23,241.83 270.28,245.25 271.10,248.20C271.92,251.15 272.57,253.78 273.20,256.00C273.83,258.22 274.30,259.17 274.90,261.50C275.50,263.83 276.15,267.17 276.80,270.00C277.45,272.83 278.20,276.00 278.80,278.50C279.40,281.00 279.80,282.58 280.40,285.00C281.00,287.42 281.72,290.33 282.40,293.00C283.08,295.67 283.73,298.17 284.50,301.00C285.27,303.83 286.08,307.17 287.00,310.00C287.92,312.83 288.83,315.33 290.00,318.00C291.17,320.67 292.67,323.83 294.00,326.00C295.33,328.17 296.50,329.75 298.00,331.00C299.50,332.25 300.17,332.97 303.00,333.50C305.83,334.03 310.42,334.05 315.00,334.20C319.58,334.35 327.92,334.37 330.50,334.40" stroke="#d6d6d6" stroke-width="1.10" fill="none" stroke-linejoin="round" />
<path d="M183.00,334.40C186.67,334.38 200.50,334.35 205.00,334.30C209.50,334.25 208.00,334.23 210.00,334.10C212.00,333.97 214.45,334.00 217.00,333.50C219.55,333.00 222.92,332.42 225.30,331.10C227.68,329.78 229.50,327.92 231.30,325.60C233.10,323.28 234.50,321.00 236.10,317.20C237.70,313.40 239.50,307.98 240.90,302.80C242.30,297.62 243.38,291.67 244.50,286.10C245.62,280.53 246.80,274.08 247.60,269.40C248.40,264.72 248.80,261.05 249.30,258.00C249.80,254.95 250.03,253.90 250.60,251.10C251.17,248.30 252.00,244.52 252.70,241.20C253.40,237.88 254.08,234.03 254.80,231.20C255.52,228.37 256.17,226.23 257.00,224.20C257.83,222.17 258.80,220.07 259.80,219.00C260.80,217.93 261.82,217.65 263.00,217.80C264.18,217.95 265.78,218.13 266.90,219.90C268.02,221.67 268.92,225.55 269.70,228.40C270.48,231.25 270.88,233.93 271.60,237.00C272.32,240.07 273.18,243.47 274.00,246.80C274.82,250.13 275.75,253.80 276.50,257.00C277.25,260.20 277.85,263.07 278.50,266.00C279.15,268.93 279.73,271.35 280.40,274.60C281.07,277.85 281.85,282.02 282.50,285.50C283.15,288.98 283.73,292.83 284.30,295.50C284.87,298.17 285.37,299.45 285.90,301.50C286.43,303.55 286.98,305.78 287.50,307.80C288.02,309.82 288.45,311.57 289.00,313.60C289.55,315.63 290.17,318.02 290.80,320.00C291.43,321.98 291.93,323.92 292.80,325.50C293.67,327.08 294.97,328.45 296.00,329.50C297.03,330.55 297.33,331.12 299.00,331.80C300.67,332.48 303.33,333.20 306.00,333.60C308.67,334.00 310.92,334.07 315.00,334.20C319.08,334.33 327.92,334.37 330.50,334.40" stroke="#000000" stroke-width="1.05" fill="none" stroke-linejoin="round" />
<path d="M183.00,334.40C188.33,334.37 207.75,334.47 215.00,334.20C222.25,333.93 223.33,333.30 226.50,332.80C229.67,332.30 231.43,332.23 234.00,331.20C236.57,330.17 239.98,328.05 241.90,326.60C243.82,325.15 244.27,324.07 245.50,322.50C246.73,320.93 248.13,319.02 249.30,317.20C250.47,315.38 251.43,313.80 252.50,311.60C253.57,309.40 254.63,306.75 255.70,304.00C256.77,301.25 257.85,298.27 258.90,295.10C259.95,291.93 261.23,287.68 262.00,285.00C262.77,282.32 263.00,280.90 263.50,279.00C264.00,277.10 264.50,275.52 265.00,273.60C265.50,271.68 265.85,269.80 266.50,267.50C267.15,265.20 268.07,262.05 268.90,259.80C269.73,257.55 270.50,255.42 271.50,254.00C272.50,252.58 273.82,251.55 274.90,251.30C275.98,251.05 277.02,251.25 278.00,252.50C278.98,253.75 279.72,255.78 280.80,258.80C281.88,261.82 283.33,266.15 284.50,270.60C285.67,275.05 286.72,280.77 287.80,285.50C288.88,290.23 289.97,294.92 291.00,299.00C292.03,303.08 292.95,306.50 294.00,310.00C295.05,313.50 296.22,317.33 297.30,320.00C298.38,322.67 299.13,324.18 300.50,326.00C301.87,327.82 303.58,329.67 305.50,330.90C307.42,332.13 309.58,332.85 312.00,333.40C314.42,333.95 316.92,334.03 320.00,334.20C323.08,334.37 328.75,334.37 330.50,334.40" stroke="#e02428" stroke-width="1.10" fill="none" stroke-linejoin="round" />
<path d="M183.00,334.40C188.33,334.37 207.17,334.50 215.00,334.20C222.83,333.90 226.18,333.33 230.00,332.60C233.82,331.87 235.40,330.82 237.90,329.80C240.40,328.78 242.98,327.53 245.00,326.50C247.02,325.47 248.53,324.50 250.00,323.60C251.47,322.70 252.12,322.15 253.80,321.10C255.48,320.05 258.20,318.68 260.10,317.30C262.00,315.92 263.72,314.60 265.20,312.80C266.68,311.00 267.83,308.82 269.00,306.50C270.17,304.18 271.15,301.43 272.20,298.90C273.25,296.37 274.25,293.70 275.30,291.30C276.35,288.90 277.63,286.22 278.50,284.50C279.37,282.78 279.85,281.72 280.50,281.00C281.15,280.28 281.73,280.12 282.40,280.20C283.07,280.28 283.75,280.77 284.50,281.50C285.25,282.23 285.87,282.48 286.90,284.60C287.93,286.72 289.47,290.70 290.70,294.20C291.93,297.70 293.10,302.10 294.30,305.60C295.50,309.10 296.45,312.00 297.90,315.20C299.35,318.40 301.28,322.18 303.00,324.80C304.72,327.42 306.20,329.50 308.20,330.90C310.20,332.30 312.70,332.68 315.00,333.20C317.30,333.72 319.42,333.80 322.00,334.00C324.58,334.20 329.08,334.33 330.50,334.40" stroke="#3a8520" stroke-width="1.10" fill="none" stroke-linejoin="round" />
<path d="M183.00,334.40C186.67,334.38 198.83,334.42 205.00,334.30C211.17,334.18 216.42,333.90 220.00,333.70C223.58,333.50 223.82,333.53 226.50,333.10C229.18,332.67 232.90,331.95 236.10,331.10C239.30,330.25 243.38,328.83 245.70,328.00C248.02,327.17 248.23,326.80 250.00,326.10C251.77,325.40 254.18,324.32 256.30,323.80C258.42,323.28 260.80,323.03 262.70,323.00C264.60,322.97 266.12,323.40 267.70,323.60C269.28,323.80 270.72,324.62 272.20,324.20C273.68,323.78 275.23,322.57 276.60,321.10C277.97,319.63 279.13,317.30 280.40,315.40C281.67,313.50 283.10,311.10 284.20,309.70C285.30,308.30 286.00,307.58 287.00,307.00C288.00,306.42 289.28,306.17 290.20,306.20C291.12,306.23 291.77,306.58 292.50,307.20C293.23,307.82 293.52,307.98 294.60,309.90C295.68,311.82 297.40,315.78 299.00,318.70C300.60,321.62 302.17,325.08 304.20,327.40C306.23,329.72 308.90,331.50 311.20,332.60C313.50,333.70 314.78,333.70 318.00,334.00C321.22,334.30 328.42,334.33 330.50,334.40" stroke="#2020f4" stroke-width="1.10" fill="none" stroke-linejoin="round" />
</g>
<text class="k" x="22.45" y="161.96" font-family='"Liberation Sans", sans-serif' font-size="8.60" fill="#000" style="" >0</text>
<text class="k" x="15.38" y="137.39" font-family='"Liberation Sans", sans-serif' font-size="8.60" fill="#000" style="" >0.2</text>
<text class="k" x="15.20" y="112.82" font-family='"Liberation Sans", sans-serif' font-size="8.60" fill="#000" style="" >0.4</text>
<text class="k" x="15.32" y="88.25" font-family='"Liberation Sans", sans-serif' font-size="8.60" fill="#000" style="" >0.6</text>
<text class="k" x="15.32" y="63.68" font-family='"Liberation Sans", sans-serif' font-size="8.60" fill="#000" style="" >0.8</text>
<path d="M24.07,34.91L26.39,33.36L26.39,39.11" stroke="#000" stroke-width="1.01" fill="none" stroke-linejoin="miter"/>
<text class="k" x="22.85" y="337.66" font-family='"Liberation Sans", sans-serif' font-size="8.60" fill="#000" style="" >0</text>
<text class="k" x="15.78" y="300.91" font-family='"Liberation Sans", sans-serif' font-size="8.60" fill="#000" style="" >0.2</text>
<text class="k" x="15.60" y="264.16" font-family='"Liberation Sans", sans-serif' font-size="8.60" fill="#000" style="" >0.4</text>
<text class="k" x="15.72" y="227.41" font-family='"Liberation Sans", sans-serif' font-size="8.60" fill="#000" style="" >0.6</text>
<text class="k" x="15.72" y="190.66" font-family='"Liberation Sans", sans-serif' font-size="8.60" fill="#000" style="" >0.8</text>
<path d="M27.96,164.22L30.28,162.67L30.28,168.42" stroke="#000" stroke-width="1.01" fill="none" stroke-linejoin="miter"/>
<path d="M27.96,339.52L30.28,337.97L30.28,343.72" stroke="#000" stroke-width="1.01" fill="none" stroke-linejoin="miter"/>
<text class="k" x="69.39" y="168.50" font-family='"Liberation Sans", sans-serif' font-size="8.60" fill="#000" style="" >2</text>
<text class="k" x="69.39" y="343.80" font-family='"Liberation Sans", sans-serif' font-size="8.60" fill="#000" style="" >2</text>
<text class="k" x="111.71" y="168.50" font-family='"Liberation Sans", sans-serif' font-size="8.60" fill="#000" style="" >3</text>
<text class="k" x="111.71" y="343.80" font-family='"Liberation Sans", sans-serif' font-size="8.60" fill="#000" style="" >3</text>
<text class="k" x="153.99" y="168.42" font-family='"Liberation Sans", sans-serif' font-size="8.60" fill="#000" style="" >4</text>
<text class="k" x="153.99" y="343.72" font-family='"Liberation Sans", sans-serif' font-size="8.60" fill="#000" style="" >4</text>
<text class="k" x="177.54" y="168.50" font-family='"Liberation Sans", sans-serif' font-size="8.60" fill="#000" style="" >0.3</text>
<text class="k" x="177.04" y="343.80" font-family='"Liberation Sans", sans-serif' font-size="8.60" fill="#000" style="" >0.3</text>
<text class="k" x="206.88" y="168.50" font-family='"Liberation Sans", sans-serif' font-size="8.60" fill="#000" style="" >0.4</text>
<text class="k" x="206.48" y="343.80" font-family='"Liberation Sans", sans-serif' font-size="8.60" fill="#000" style="" >0.4</text>
<text class="k" x="236.34" y="168.50" font-family='"Liberation Sans", sans-serif' font-size="8.60" fill="#000" style="" >0.5</text>
<text class="k" x="236.04" y="343.80" font-family='"Liberation Sans", sans-serif' font-size="8.60" fill="#000" style="" >0.5</text>
<text class="k" x="265.74" y="168.50" font-family='"Liberation Sans", sans-serif' font-size="8.60" fill="#000" style="" >0.6</text>
<text class="k" x="265.54" y="343.80" font-family='"Liberation Sans", sans-serif' font-size="8.60" fill="#000" style="" >0.6</text>
<text class="k" x="295.17" y="168.50" font-family='"Liberation Sans", sans-serif' font-size="8.60" fill="#000" style="" >0.7</text>
<text class="k" x="295.07" y="343.80" font-family='"Liberation Sans", sans-serif' font-size="8.60" fill="#000" style="" >0.7</text>
<text class="k" x="324.54" y="168.50" font-family='"Liberation Sans", sans-serif' font-size="8.60" fill="#000" style="" >0.8</text>
<text class="k" x="324.54" y="343.80" font-family='"Liberation Sans", sans-serif' font-size="8.60" fill="#000" style="" >0.8</text>
<text class="k" x="333.26" y="161.76" font-family='"Liberation Sans", sans-serif' font-size="8.60" fill="#000" style="" >0</text>
<path d="M333.35,133.06L335.67,131.51L335.67,137.26" stroke="#000" stroke-width="1.01" fill="none" stroke-linejoin="miter"/>
<text class="k" x="333.17" y="112.80" font-family='"Liberation Sans", sans-serif' font-size="8.60" fill="#000" style="" >2</text>
<text class="k" x="333.27" y="88.26" font-family='"Liberation Sans", sans-serif' font-size="8.60" fill="#000" style="" >3</text>
<text class="k" x="333.40" y="63.76" font-family='"Liberation Sans", sans-serif' font-size="8.60" fill="#000" style="" >4</text>
<text class="k" x="333.26" y="39.22" font-family='"Liberation Sans", sans-serif' font-size="8.60" fill="#000" style="" >5</text>
<text class="k" x="333.16" y="14.76" font-family='"Liberation Sans", sans-serif' font-size="8.60" fill="#000" style="" >6</text>
<text class="k" x="333.26" y="337.66" font-family='"Liberation Sans", sans-serif' font-size="8.60" fill="#000" style="" >0</text>
<path d="M333.35,296.71L335.67,295.16L335.67,300.91" stroke="#000" stroke-width="1.01" fill="none" stroke-linejoin="miter"/>
<text class="k" x="333.17" y="264.20" font-family='"Liberation Sans", sans-serif' font-size="8.60" fill="#000" style="" >2</text>
<text class="k" x="333.27" y="227.41" font-family='"Liberation Sans", sans-serif' font-size="8.60" fill="#000" style="" >3</text>
<text class="k" x="333.40" y="190.66" font-family='"Liberation Sans", sans-serif' font-size="8.60" fill="#000" style="" >4</text>
<text class="k" x="88.64" y="353.10" font-family='"Liberation Sans", sans-serif' font-size="9.30" fill="#000" style="" >R (a.u.)</text>
<text class="k" x="237.09" y="352.80" font-family='"Liberation Sans", sans-serif' font-size="8.60" fill="#000" style="" >NKE (a.u.)</text>
<text class="k" transform="translate(10.60,140.50) rotate(-90)" font-family='"Liberation Sans", sans-serif' font-size="9.50" fill="#000">Ionization probability (10<tspan font-size="6.46" dy="-5.70">-5</tspan><tspan dy="5.70">)</tspan></text>
<text class="k" transform="translate(352.00,140.30) rotate(-90)" font-family='"Liberation Sans", sans-serif' font-size="9.50" fill="#000">Ionization probability (10<tspan font-size="6.46" dy="-5.70">-5</tspan><tspan dy="5.70">)</tspan></text>
<text class="k" transform="translate(10.60,315.80) rotate(-90)" font-family='"Liberation Sans", sans-serif' font-size="9.50" fill="#000">Ionization probability (10<tspan font-size="6.46" dy="-5.70">-5</tspan><tspan dy="5.70">)</tspan></text>
<text class="k" transform="translate(351.60,315.80) rotate(-90)" font-family='"Liberation Sans", sans-serif' font-size="9.50" fill="#000">Ionization probability (10<tspan font-size="6.46" dy="-5.70">-5</tspan><tspan dy="5.70">)</tspan></text>
<text class="k" x="106.63" y="8.90" font-family='"Liberation Serif", serif' font-size="13.00" fill="#000" style="" >Second order</text>
<text class="k" x="184.93" y="8.90" font-family='"Liberation Serif", serif' font-size="13.00" fill="#000" style="" >Full calculation</text>
<text class="k" x="41.94" y="184.00" font-family='"Liberation Serif", serif' font-size="12.90" fill="#000" style="" >Second order &quot;sequential&quot;</text>
<text class="k" x="186.33" y="184.70" font-family='"Liberation Serif", serif' font-size="12.70" fill="#000" style="" >Model</text>
<text class="k" x="34.08" y="33.00" font-family='"Liberation Serif", serif' font-size="20.50" fill="#000" style="" >a)</text>
<text class="k" x="303.90" y="33.10" font-family='"Liberation Serif", serif' font-size="20.50" fill="#000" style="" >b)</text>
<text class="k" x="36.62" y="209.00" font-family='"Liberation Serif", serif' font-size="20.50" fill="#000" style="" >c)</text>
<text class="k" x="305.26" y="210.20" font-family='"Liberation Serif", serif' font-size="20.50" fill="#000" style="" >d)</text>
<line x1="107.70" y1="77.50" x2="119.90" y2="77.50" stroke="#6cf03a" stroke-width="0.65"/>
<circle cx="107.70" cy="77.50" r="1.35" fill="#8cf060" stroke="#6cf03a" stroke-width="0.9"/>
<circle cx="119.90" cy="77.50" r="1.35" fill="#8cf060" stroke="#6cf03a" stroke-width="0.9"/>
<text class="k" x="126.07" y="80.00" font-family='"Liberation Serif", serif' font-size="8.40" fill="#000" style="" >η = -5</text>
<line x1="107.70" y1="87.45" x2="119.90" y2="87.45" stroke="#eb9f40" stroke-width="0.65"/>
<rect x="106.40" y="86.15" width="2.6" height="2.6" fill="#f2c080" stroke="#eb9f40" stroke-width="0.9"/>
<rect x="118.60" y="86.15" width="2.6" height="2.6" fill="#f2c080" stroke="#eb9f40" stroke-width="0.9"/>
<text class="k" x="126.07" y="89.95" font-family='"Liberation Serif", serif' font-size="8.40" fill="#000" style="" >η = -2</text>
<line x1="107.70" y1="97.40" x2="119.90" y2="97.40" stroke="#d6d6d6" stroke-width="1.10"/>
<text class="k" x="126.09" y="99.90" font-family='"Liberation Serif", serif' font-size="8.40" fill="#000" style="" >unchirped</text>
<line x1="107.70" y1="107.35" x2="119.90" y2="107.35" stroke="#000000" stroke-width="1.10"/>
<text class="k" x="127.98" y="109.85" font-family='"Liberation Serif", serif' font-size="8.40" fill="#000" style="" >= 2</text>
<line x1="107.70" y1="117.30" x2="119.90" y2="117.30" stroke="#e02428" stroke-width="1.10"/>
<text class="k" x="126.07" y="119.80" font-family='"Liberation Serif", serif' font-size="8.40" fill="#000" style="" >η = 5</text>
<line x1="107.70" y1="127.25" x2="119.90" y2="127.25" stroke="#3a8520" stroke-width="1.10"/>
<text class="k" x="126.07" y="129.75" font-family='"Liberation Serif", serif' font-size="8.40" fill="#000" style="" >η = 7</text>
<line x1="107.70" y1="137.20" x2="119.90" y2="137.20" stroke="#2020f4" stroke-width="1.10"/>
<text class="k" x="126.07" y="139.70" font-family='"Liberation Serif", serif' font-size="8.40" fill="#000" style="" >η = 10</text>
<line x1="107.80" y1="252.60" x2="119.90" y2="252.60" stroke="#6cf03a" stroke-width="0.65"/>
<circle cx="107.80" cy="252.60" r="1.35" fill="#8cf060" stroke="#6cf03a" stroke-width="0.9"/>
<circle cx="119.90" cy="252.60" r="1.35" fill="#8cf060" stroke="#6cf03a" stroke-width="0.9"/>
<text class="k" x="126.27" y="255.10" font-family='"Liberation Serif", serif' font-size="8.40" fill="#000" style="" >η = -5</text>
<line x1="107.80" y1="262.55" x2="119.90" y2="262.55" stroke="#eb9f40" stroke-width="0.65"/>
<circle cx="107.80" cy="262.55" r="1.35" fill="#f0b868" stroke="#eb9f40" stroke-width="0.9"/>
<circle cx="119.90" cy="262.55" r="1.35" fill="#f0b868" stroke="#eb9f40" stroke-width="0.9"/>
<text class="k" x="126.27" y="265.05" font-family='"Liberation Serif", serif' font-size="8.40" fill="#000" style="" >η = -2</text>
<line x1="107.80" y1="272.50" x2="119.90" y2="272.50" stroke="#d6d6d6" stroke-width="1.10"/>
<text class="k" x="126.29" y="275.00" font-family='"Liberation Serif", serif' font-size="8.40" fill="#000" style="" >unchirped</text>
<line x1="107.80" y1="282.45" x2="119.90" y2="282.45" stroke="#000000" stroke-width="1.60"/>
<text class="k" x="128.18" y="284.95" font-family='"Liberation Serif", serif' font-size="8.40" fill="#000" style="" >= 2</text>
<line x1="107.80" y1="292.40" x2="119.90" y2="292.40" stroke="#e02428" stroke-width="1.10"/>
<text class="k" x="126.27" y="294.90" font-family='"Liberation Serif", serif' font-size="8.40" fill="#000" style="" >η = 5</text>
<line x1="107.80" y1="302.35" x2="119.90" y2="302.35" stroke="#3a8520" stroke-width="1.10"/>
<text class="k" x="126.27" y="304.85" font-family='"Liberation Serif", serif' font-size="8.40" fill="#000" style="" >η = 7</text>
<line x1="107.80" y1="312.30" x2="119.90" y2="312.30" stroke="#2020f4" stroke-width="1.60"/>
<text class="k" x="126.27" y="314.80" font-family='"Liberation Serif", serif' font-size="8.40" fill="#000" style="" >η = 10</text>
<rect x="93.50" y="17.50" width="149.50" height="39.00" fill="#fff" stroke="#7a80bc" stroke-width="1"/>
<g fill="#3c3c3c">
<line x1="98.00" y1="32.30" x2="98.00" y2="42.40" stroke="#484848" stroke-width="0.70"/>
<text transform="matrix(0.07646,0,0,0.10385,99.68,40.10)" font-family='"Liberation Serif", serif' font-size="100" style="">Ψ</text>
<text transform="matrix(0.08348,0,0,0.07499,106.13,35.70)" font-family='"Liberation Serif", serif' font-size="100" style="">(2)</text>
<text transform="matrix(0.07181,0,0,0.07789,107.23,43.50)" font-family='"Liberation Serif", serif' font-size="100" style="font-style:italic;">I</text>
<text transform="matrix(0.10123,0,0,0.10808,116.26,40.10)" font-family='"Liberation Serif", serif' font-size="100" style="">(</text>
<text transform="matrix(0.12209,0,0,0.10476,119.66,40.10)" font-family='"Liberation Serif", serif' font-size="100" style="font-style:italic;">t</text>
<text transform="matrix(0.09734,0,0,0.10808,123.59,40.10)" font-family='"Liberation Serif", serif' font-size="100" style="">)</text>
<path d="M127.60,32.60L130.60,37.50L127.60,42.40" stroke="#484848" stroke-width="0.70" fill="none"/>
<text transform="matrix(0.14613,0,0,0.13600,134.37,42.22)" font-family='"Liberation Serif", serif' font-size="100" style="">=</text>
<text transform="matrix(0.09090,0,0,0.08483,146.10,33.40)" font-family='"Liberation Serif", serif' font-size="100" style="">1</text>
<line x1="145.9" y1="37.4" x2="151.1" y2="37.4" stroke="#000" stroke-width="0.6"/>
<text transform="matrix(0.10422,0,0,0.09666,146.42,46.60)" font-family='"Liberation Serif", serif' font-size="100" style="font-style:italic;">i</text>
<path d="M164.34,27.24 C164.17,25.50 162.56,25.04 161.71,27.12 C160.78,30.14 159.92,44.06 158.99,47.08 C158.14,49.16 156.53,48.70 156.35,46.96" stroke="#3a3a3a" stroke-width="0.95" fill="none" stroke-linecap="round"/>
<circle cx="163.75" cy="27.12" r="0.75" fill="#3a3a3a"/>
<circle cx="156.95" cy="47.08" r="0.75" fill="#3a3a3a"/>
<text transform="matrix(0.07483,0,0,0.08031,161.37,24.32)" font-family='"Liberation Serif", serif' font-size="100" style="font-style:italic;">t</text>
<text transform="matrix(0.10009,0,0,0.08402,151.60,55.83)" font-family='"Liberation Serif", serif' font-size="100" style="">−∞</text>
<text transform="matrix(0.07789,0,0,0.10150,168.99,39.95)" font-family='"Liberation Serif", serif' font-size="100" style="font-style:italic;">V</text>
<text transform="matrix(0.06789,0,0,0.04303,170.50,33.02)" font-family='"Liberation Serif", serif' font-size="100" style="">^</text>
<text transform="matrix(0.06117,0,0,0.06872,174.52,43.50)" font-family='"Liberation Serif", serif' font-size="100" style="font-style:italic;">I</text>
<text transform="matrix(0.09734,0,0,0.11029,177.47,40.05)" font-family='"Liberation Serif", serif' font-size="100" style="">(</text>
<path d="M181.00,37.07 Q181.70,35.23 183.32,35.34 L186.80,35.23 M184.60,35.45 C184.19,37.23 183.32,38.85 183.44,39.66 C183.55,40.31 184.48,40.20 184.94,39.55" stroke="#3c3c3c" stroke-width="0.80" fill="none" stroke-linecap="round"/>
<text transform="matrix(0.09734,0,0,0.11029,187.49,40.05)" font-family='"Liberation Serif", serif' font-size="100" style="">)</text>
<line x1="192.40" y1="32.30" x2="192.40" y2="42.40" stroke="#484848" stroke-width="0.70"/>
<text transform="matrix(0.08465,0,0,0.10385,194.88,40.10)" font-family='"Liberation Serif", serif' font-size="100" style="">Ψ</text>
<text transform="matrix(0.08533,0,0,0.07169,202.12,35.27)" font-family='"Liberation Serif", serif' font-size="100" style="">(1)</text>
<text transform="matrix(0.07181,0,0,0.07178,202.83,42.90)" font-family='"Liberation Serif", serif' font-size="100" style="font-style:italic;">I</text>
<text transform="matrix(0.09734,0,0,0.11029,212.07,40.05)" font-family='"Liberation Serif", serif' font-size="100" style="">(</text>
<path d="M215.60,37.07 Q216.27,35.23 217.84,35.34 L221.20,35.23 M219.07,35.45 C218.68,37.23 217.84,38.85 217.95,39.66 C218.06,40.31 218.96,40.20 219.41,39.55" stroke="#3c3c3c" stroke-width="0.80" fill="none" stroke-linecap="round"/>
<text transform="matrix(0.09734,0,0,0.11029,220.89,40.05)" font-family='"Liberation Serif", serif' font-size="100" style="">)</text>
<path d="M224.40,32.40L227.40,37.40L224.40,42.40" stroke="#484848" stroke-width="0.70" fill="none"/>
<text transform="matrix(0.11292,0,0,0.09807,228.29,40.10)" font-family='"Liberation Serif", serif' font-size="100" style="">d</text>
<path d="M234.20,37.07 Q234.84,35.23 236.32,35.34 L239.50,35.23 M237.49,35.45 C237.12,37.23 236.32,38.85 236.43,39.66 C236.53,40.31 237.38,40.20 237.80,39.55" stroke="#3c3c3c" stroke-width="0.80" fill="none" stroke-linecap="round"/>
</g>
<rect x="85.80" y="196.10" width="160.50" height="38.50" fill="#fff" stroke="#7a80bc" stroke-width="1"/>
<g fill="#3c3c3c">
<line x1="90.20" y1="209.60" x2="90.20" y2="219.60" stroke="#484848" stroke-width="0.70"/>
<text transform="matrix(0.08738,0,0,0.10691,91.67,217.70)" font-family='"Liberation Serif", serif' font-size="100" style="">Ψ</text>
<text transform="matrix(0.08255,0,0,0.07058,99.04,213.00)" font-family='"Liberation Serif", serif' font-size="100" style="">(2)</text>
<text transform="matrix(0.07447,0,0,0.07331,99.43,220.60)" font-family='"Liberation Serif", serif' font-size="100" style="font-style:italic;">I</text>
<text transform="matrix(0.06715,0,0,0.07787,102.34,220.40)" font-family='"Liberation Serif", serif' font-size="100" style="">,</text>
<text transform="matrix(0.08242,0,0,0.06630,103.86,219.99)" font-family='"Liberation Serif", serif' font-size="100" style="">seq</text>
<text transform="matrix(0.09734,0,0,0.11249,115.17,217.61)" font-family='"Liberation Serif", serif' font-size="100" style="">(</text>
<text transform="matrix(0.12603,0,0,0.10825,118.25,217.69)" font-family='"Liberation Serif", serif' font-size="100" style="font-style:italic;">t</text>
<text transform="matrix(0.09734,0,0,0.11249,122.49,217.61)" font-family='"Liberation Serif", serif' font-size="100" style="">)</text>
<path d="M126.40,209.80L129.60,214.90L126.40,220.00" stroke="#484848" stroke-width="0.70" fill="none"/>
<text transform="matrix(0.15043,0,0,0.13600,132.95,219.42)" font-family='"Liberation Serif", serif' font-size="100" style="">=</text>
<text transform="matrix(0.07953,0,0,0.08028,145.10,210.90)" font-family='"Liberation Serif", serif' font-size="100" style="">1</text>
<line x1="144.6" y1="213.8" x2="149.7" y2="213.8" stroke="#000" stroke-width="0.6"/>
<text transform="matrix(0.10944,0,0,0.09666,145.49,223.00)" font-family='"Liberation Serif", serif' font-size="100" style="font-style:italic;">i</text>
<path d="M162.34,203.72 C162.17,202.00 160.54,201.54 159.68,203.61 C158.73,206.60 157.87,220.40 156.92,223.39 C156.06,225.46 154.43,225.00 154.26,223.28" stroke="#3a3a3a" stroke-width="0.95" fill="none" stroke-linecap="round"/>
<circle cx="161.74" cy="203.61" r="0.75" fill="#3a3a3a"/>
<circle cx="154.86" cy="223.39" r="0.75" fill="#3a3a3a"/>
<text transform="matrix(0.07089,0,0,0.06111,160.39,200.34)" font-family='"Liberation Serif", serif' font-size="100" style="font-style:italic;">t</text>
<text transform="matrix(0.10093,0,0,0.08139,150.20,231.91)" font-family='"Liberation Serif", serif' font-size="100" style="">−∞</text>
<text transform="matrix(0.07789,0,0,0.09852,167.79,217.25)" font-family='"Liberation Serif", serif' font-size="100" style="font-style:italic;">V</text>
<text transform="matrix(0.06789,0,0,0.04303,169.30,210.42)" font-family='"Liberation Serif", serif' font-size="100" style="">^</text>
<text transform="matrix(0.06649,0,0,0.06720,173.33,221.00)" font-family='"Liberation Serif", serif' font-size="100" style="font-style:italic;">I</text>
<text transform="matrix(0.09734,0,0,0.10808,177.27,217.10)" font-family='"Liberation Serif", serif' font-size="100" style="">(</text>
<path d="M180.80,214.35 Q181.47,212.45 183.04,212.56 L186.40,212.45 M184.27,212.67 C183.88,214.52 183.04,216.20 183.15,217.04 C183.26,217.71 184.16,217.60 184.61,216.93" stroke="#3c3c3c" stroke-width="0.80" fill="none" stroke-linecap="round"/>
<text transform="matrix(0.09734,0,0,0.10808,186.39,217.10)" font-family='"Liberation Serif", serif' font-size="100" style="">)</text>
<line x1="191.20" y1="209.60" x2="191.20" y2="219.60" stroke="#484848" stroke-width="0.70"/>
<text transform="matrix(0.09284,0,0,0.10691,193.27,217.70)" font-family='"Liberation Serif", serif' font-size="100" style="">Ψ</text>
<text transform="matrix(0.07699,0,0,0.06838,200.96,212.34)" font-family='"Liberation Serif", serif' font-size="100" style="">(1)</text>
<text transform="matrix(0.06915,0,0,0.07789,201.33,220.40)" font-family='"Liberation Serif", serif' font-size="100" style="font-style:italic;">I</text>
<text transform="matrix(0.09344,0,0,0.11029,209.99,217.25)" font-family='"Liberation Serif", serif' font-size="100" style="">(</text>
<text transform="matrix(0.17891,0,0,0.11553,212.53,217.55)" font-family='"Liberation Serif", serif' font-size="100" style="">∞</text>
<text transform="matrix(0.09734,0,0,0.11029,224.89,217.25)" font-family='"Liberation Serif", serif' font-size="100" style="">)</text>
<path d="M228.00,209.60L231.10,214.60L228.00,219.60" stroke="#484848" stroke-width="0.70" fill="none"/>
<text transform="matrix(0.11292,0,0,0.09807,231.39,217.60)" font-family='"Liberation Serif", serif' font-size="100" style="">d</text>
<path d="M237.50,214.35 Q238.11,212.45 239.54,212.56 L242.60,212.45 M240.66,212.67 C240.31,214.52 239.54,216.20 239.64,217.04 C239.74,217.71 240.56,217.60 240.97,216.93" stroke="#3c3c3c" stroke-width="0.80" fill="none" stroke-linecap="round"/>
</g>
</svg></body></html>
